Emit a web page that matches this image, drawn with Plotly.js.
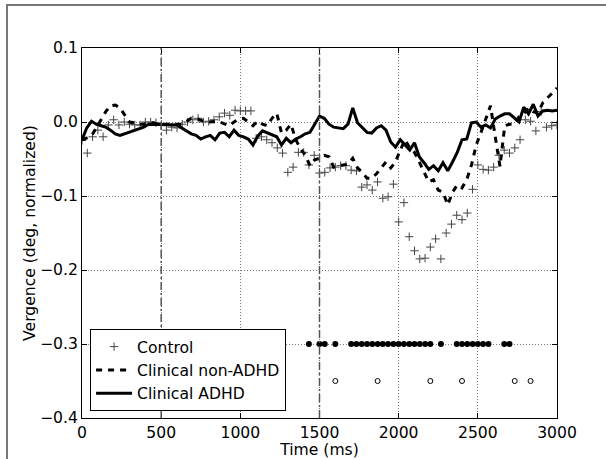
<!DOCTYPE html>
<html>
<head>
<meta charset="utf-8">
<script src="https://cdn.plot.ly/plotly-3.0.1.min.js"></script>
<style>
  html, body { margin: 0; padding: 0; background: #fff; }
  #wrap { position: relative; width: 606px; height: 459px; overflow: hidden; }
  #chart { position: absolute; left: 0; top: 0; width: 606px; height: 459px; }
  #frame { position: absolute; left: 6px; top: 4px; width: 700px; height: 600px;
           border: 2px solid #777; box-sizing: border-box; pointer-events: none; }
</style>
</head>
<body>
<div id="wrap">
  <div id="chart"></div>
  <div id="frame"></div>
</div>
<script>
// ---- data ----
// line series sampled every 30 ms (0..3000)
const lineStepMs = 30;
const clinicalADHD = [
  -0.024,-0.008,0.001,-0.003,-0.005,-0.007,-0.011,-0.016,-0.018,-0.016,
  -0.013,-0.012,-0.010,-0.007,-0.003,-0.003,-0.003,-0.003,-0.003,-0.003,
  -0.004,-0.008,-0.012,-0.016,-0.018,-0.023,-0.020,-0.018,-0.024,-0.015,
  -0.014,-0.020,-0.011,-0.018,-0.020,-0.023,-0.031,-0.019,-0.012,-0.015,
  -0.018,-0.020,-0.031,-0.022,-0.028,-0.023,-0.020,-0.016,-0.014,-0.003,
  0.008,0.005,-0.003,-0.007,-0.008,-0.009,-0.003,0.019,-0.001,-0.007,
  -0.014,-0.015,-0.008,-0.005,-0.011,-0.027,-0.034,-0.024,-0.031,-0.038,
  -0.028,-0.047,-0.055,-0.064,-0.059,-0.066,-0.055,-0.066,-0.054,-0.041,
  -0.024,-0.023,-0.001,0.000,-0.007,-0.004,-0.008,0.004,0.008,0.011,
  0.011,0.005,0.000,0.020,0.011,0.024,0.008,0.015,0.016,0.015,0.016
];
const clinicalNonADHD = [
  -0.024,-0.022,-0.019,-0.008,0.003,0.014,0.022,0.023,0.019,0.009,
  0.000,-0.001,-0.003,-0.003,-0.001,-0.001,-0.003,-0.003,-0.003,-0.003,
  -0.004,-0.003,0.001,0.005,0.005,0.003,0.000,0.000,0.001,0.000,
  -0.003,-0.005,0.000,0.004,0.005,0.000,-0.005,0.001,-0.003,-0.005,
  0.005,0.012,-0.015,-0.011,-0.003,-0.024,-0.036,-0.045,-0.059,-0.051,
  -0.049,-0.045,-0.047,-0.061,-0.059,-0.058,-0.057,-0.049,-0.062,-0.068,
  -0.076,-0.076,-0.070,-0.062,-0.054,-0.062,-0.054,-0.038,-0.024,-0.035,
  -0.041,-0.054,-0.068,-0.081,-0.078,-0.092,-0.095,-0.112,-0.095,-0.085,
  -0.089,-0.078,-0.058,-0.031,-0.014,0.005,0.022,-0.020,-0.060,-0.005,
  -0.003,-0.003,0.007,0.011,0.019,0.014,0.012,0.026,0.032,0.039,0.046
];
// control sampled at 30 Hz (every 33.3 ms, 0..3000)
const controlStepMs = 1000 / 30;
const control = [
  -0.025,-0.042,-0.020,-0.011,-0.020,-0.004,0.003,-0.004,0.000,-0.003,
  -0.004,-0.004,0.000,0.000,-0.001,-0.004,-0.011,-0.007,-0.008,-0.003,
  0.000,0.003,0.005,0.000,0.001,0.003,0.007,0.012,0.009,0.016,
  0.015,0.015,0.015,-0.022,-0.020,-0.024,-0.028,-0.035,-0.042,-0.068,
  -0.061,-0.041,-0.041,-0.058,-0.045,-0.069,-0.068,-0.062,-0.061,-0.059,
  -0.059,-0.065,-0.066,-0.088,-0.085,-0.092,-0.081,-0.103,-0.101,-0.084,
  -0.135,-0.109,-0.155,-0.174,-0.185,-0.184,-0.169,-0.158,-0.185,-0.150,
  -0.138,-0.126,-0.132,-0.123,-0.091,-0.058,-0.064,-0.065,-0.061,-0.045,
  -0.038,-0.042,-0.035,-0.024,0.003,0.001,-0.012,0.014,-0.007,-0.005,-0.004
];
// significance markers (ms)
const sigTimesA = [1433,1500,1533,1600,1700,1733,1767,1800,1833,1867,1900,1933,1967,
                   2000,2033,2067,2100,2133,2167,2200,2267,2367,2400,2433,2467,2500,
                   2533,2567,2667,2700];
const sigLevelA = -0.30;
const sigTimesB = [1600,1867,2200,2400,2733,2833];
const sigLevelB = -0.35;
const eventTimes = [500, 1500];
const xTicks = [0,500,1000,1500,2000,2500,3000];
const yTicks = [0.1,0.0,-0.1,-0.2,-0.3,-0.4];
const seriesNames = ['Control','Clinical non-ADHD','Clinical ADHD'];

// ---- build ----
const tLine = clinicalADHD.map((_, i) => i * lineStepMs);
const tCtrl = control.map((_, i) => i * controlStepMs);
const FONT = 'DejaVu Sans, Liberation Sans, sans-serif';
const fsz = 15.6;

const traces = [
  {x: tCtrl, y: control, name: seriesNames[0], type: 'scatter', mode: 'markers',
   marker: {symbol: 'cross-thin', size: 6, line: {width: 1, color: '#444'}, color: '#444'}},
  {x: tLine, y: clinicalNonADHD, name: seriesNames[1], type: 'scatter', mode: 'lines',
   line: {color: 'black', width: 3, dash: '6px,6px'}},
  {x: tLine, y: clinicalADHD, name: seriesNames[2], type: 'scatter', mode: 'lines',
   line: {color: 'black', width: 3}},
  {x: sigTimesA, y: sigTimesA.map(() => sigLevelA), type: 'scatter', mode: 'markers',
   showlegend: false, marker: {symbol: 'circle', size: 6, color: 'black'}},
  {x: sigTimesB, y: sigTimesB.map(() => sigLevelB), type: 'scatter', mode: 'markers',
   showlegend: false, marker: {symbol: 'circle-open', size: 5, color: 'black', line: {width: 1, color: 'black'}}}
];

const axisCommon = {
  ticks: 'inside', ticklen: 5, tickwidth: 1, tickcolor: 'black',
  showline: true, linecolor: 'black', linewidth: 1, mirror: 'ticks',
  showgrid: true, gridcolor: '#777', gridwidth: 1, griddash: '1px,2px',
  zeroline: false, automargin: false,
  tickfont: {family: FONT, size: fsz, color: 'black'}
};

const layout = {
  width: 606, height: 459,
  margin: {l: 82, r: 49, t: 48, b: 41, pad: 0},
  paper_bgcolor: 'white', plot_bgcolor: 'white',
  font: {family: FONT, size: fsz, color: 'black'},
  xaxis: Object.assign({}, axisCommon, {
    range: [0, 3000], tickvals: xTicks, ticktext: xTicks.map(String),
    title: {text: 'Time (ms)', font: {family: FONT, size: fsz, color: 'black'}, standoff: 2}
  }),
  yaxis: Object.assign({}, axisCommon, {
    range: [-0.4, 0.1], tickvals: yTicks, tickformat: '.1f',
    title: {text: 'Vergence (deg, normalized)', font: {family: FONT, size: fsz, color: 'black'}, standoff: 0}
  }),
  legend: {x: 0.017, y: 0.019, xanchor: 'left', yanchor: 'bottom',
           bgcolor: 'white', bordercolor: 'black', borderwidth: 1, itemwidth: 36,
           font: {family: FONT, size: fsz, color: 'black'}, traceorder: 'normal'},
  shapes: eventTimes.map(t => ({
    type: 'line', xref: 'x', yref: 'paper', x0: t, x1: t, y0: 0, y1: 1,
    line: {color: '#555', width: 1.5, dash: '8px,3px,2px,3px'}, layer: 'above'
  })),
  showlegend: true
};

Plotly.newPlot('chart', traces, layout, {displayModeBar: false, staticPlot: true});
</script>
</body>
</html>
